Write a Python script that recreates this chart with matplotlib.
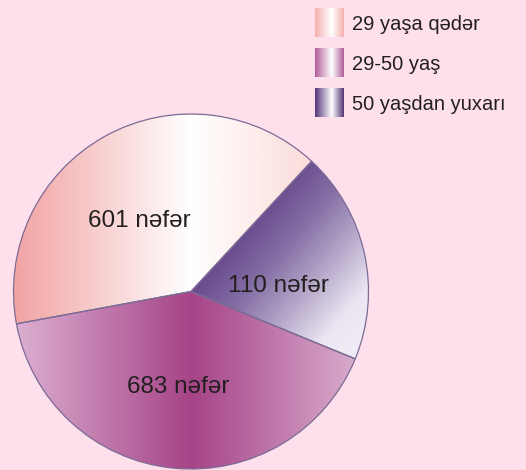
import numpy as np
import matplotlib
matplotlib.use("Agg")
import matplotlib.pyplot as plt
from matplotlib.patches import Wedge
from matplotlib.colors import LinearSegmentedColormap

# data
groups = ["29 yaşa qədər", "29-50 yaş", "50 yaşdan yuxarı"]
people = [601, 683, 110]
# slice sizes as drawn in the figure (degrees, not proportional to counts)
angles = [143.3, 147.2, 69.5]
start_angle = 47.2

# gradient colours of each slice and its direction (degrees)
slice_grads = [
    ["#f2a3a3", "#ffffff", "#f9ccc8"],
    ["#dcb0d2", "#a64387", "#dcb3d2"],
    ["#684a8d", "#8570a6", "#b6a8ca", "#ebe6f2", "#f2eef6"],
]
grad_dir = [None, None, -40]
swatch_cols = ["#f6b0b0", "#b15e99", "#553678"]

W, H = 526, 470
plt.rcParams['font.family'] = ['Liberation Sans', 'DejaVu Sans']
fig = plt.figure(figsize=(W/100, H/100), dpi=100)
fig.patch.set_facecolor("#fde0ec")
ax = fig.add_axes([0, 0, 1, 1])
ax.set_facecolor("#fde0ec")
ax.axis("off")

# pie geometry in pixels (y flipped so angles are normal)
cx, cy, r = 191, H - 291.5, 177.5
ext = [cx - r, cx + r, cy - r, cy + r]
xx, yy = np.meshgrid(np.linspace(-1, 1, 400), np.linspace(-1, 1, 400))

theta = start_angle
for i, a in enumerate(angles):
    w = Wedge((cx, cy), r, theta, theta + a, facecolor="none",
              edgecolor="#7b6b95", lw=0.9, zorder=3)
    ax.add_patch(w)
    cmap = LinearSegmentedColormap.from_list("g%d" % i, slice_grads[i])
    if grad_dir[i] is None:
        img = (xx + 1) / 2
    else:
        d = np.radians(grad_dir[i])
        img = np.clip(xx * np.cos(d) + yy * np.sin(d), 0, 1)
    im = ax.imshow(img, extent=ext, cmap=cmap, aspect="auto", zorder=2,
                   origin="lower", interpolation="bilinear", vmin=0, vmax=1)
    im.set_clip_path(w)
    theta += a

# slice labels
label_pos = [(87.7, 226.7), (126.7, 393), (227.7, 291.7)]
for (x, y), v in zip(label_pos, people):
    ax.text(x, H - y, f"{v} nəfər", fontsize=17.5, color="#231f20",
            ha="left", va="baseline", zorder=4)

# legend with gradient swatches
sw_grad = np.linspace(0, 1, 100).reshape(1, -1)
for i, (g, c) in enumerate(zip(groups, swatch_cols)):
    top = 8 + i * 40
    cm = LinearSegmentedColormap.from_list("s%d" % i, [(0, c), (0.58, "#ffffff"), (1, c)])
    ax.imshow(sw_grad, extent=[315, 344, H - top - 29, H - top], cmap=cm,
              aspect="auto", zorder=2, interpolation="bilinear")
    ax.text(352, H - (29.5 + i * 40), g, fontsize=14.5, color="#231f20",
            ha="left", va="baseline")

ax.set_xlim(0, W)
ax.set_ylim(0, H)
fig.savefig("out.png", dpi=100, facecolor=fig.get_facecolor())
